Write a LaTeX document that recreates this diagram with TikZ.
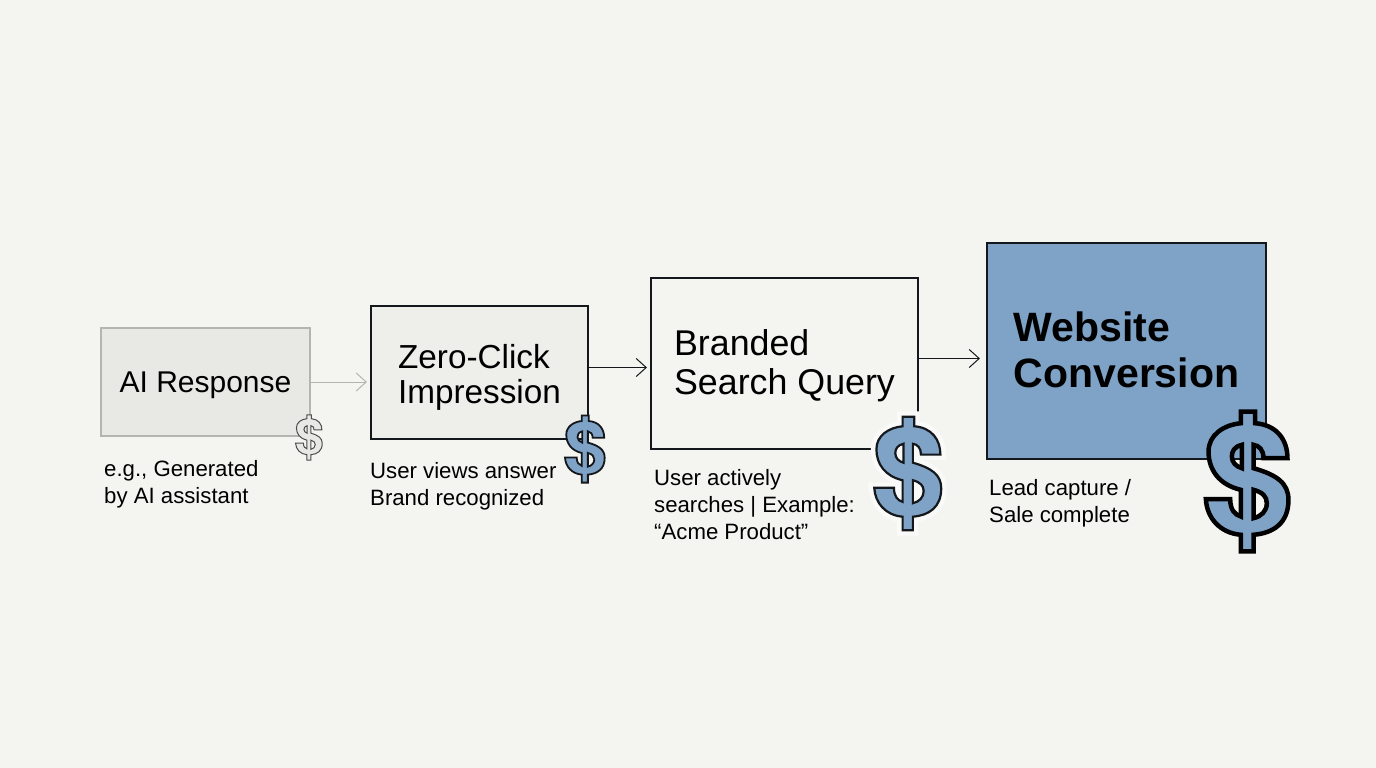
\documentclass[tikz,border=0pt]{standalone}
\usepackage{fontspec}
\setmainfont{Liberation Sans}
\usetikzlibrary{arrows.meta}
\definecolor{bgc}{HTML}{F4F4F0}
\definecolor{blu}{HTML}{7FA3C7}
\definecolor{ink}{HTML}{14181C}
\definecolor{gfill}{HTML}{E8E8E4}
\definecolor{gline}{HTML}{B4B5B0}
\definecolor{zfill}{HTML}{EEEFEA}
\definecolor{halo}{HTML}{FAFAF8}
\tikzset{
  box/.style={draw=ink,line width=1.1pt,inner sep=0pt},
  boxtext/.style={inner sep=0pt,align=left,text=black},
  captext/.style={anchor=north west,inner sep=0pt,align=left,text=black,
    font=\fontsize{22.2}{27.2}\selectfont},
  link/.style={draw=ink,line width=1pt,-{Straight Barb[length=10pt,width=18pt,line width=1pt]}},
  dollar/.pic={
    \path[pic actions,even odd rule,line join=miter]
      (-17,-210) -- (23,-210) -- (23,-175)
      .. controls (88,-170) and (120,-125) .. (120,-70)
      -- (48,-70) .. controls (48,-95) and (35,-108) .. (18,-110)
      -- (18,-40)
      .. controls (88,-20) and (123,5) .. (123,55)
      .. controls (123,125) and (78,155) .. (18,160)
      -- (18,210) -- (-20,210) -- (-20,160)
      .. controls (-82,155) and (-122,110) .. (-125,53)
      -- (-52,53) .. controls (-52,85) and (-38,100) .. (-20,105)
      -- (-20,25)
      .. controls (-85,10) and (-117,-35) .. (-117,-90)
      .. controls (-117,-140) and (-72,-170) .. (-20,-175)
      -- (-20,-210) -- cycle
      (-17,-110) .. controls (-40,-105) and (-47,-90) .. (-47,-75)
      .. controls (-47,-58) and (-35,-45) .. (-17,-40) -- cycle
      (18,25) .. controls (45,32) and (58,45) .. (58,65)
      .. controls (58,88) and (42,105) .. (18,110) -- cycle;
  }
}
\begin{document}
\begin{tikzpicture}[x=1pt,y=-1pt]
\useasboundingbox (0,0) rectangle (1376,768);
\fill[bgc] (0,0) rectangle (1376,768);

\node[box,draw=gline,fill=gfill,minimum width=209pt,minimum height=108pt] (ai) at (205.5,382) {};
\node[box,fill=zfill,minimum width=217pt,minimum height=133pt] (zero) at (479.5,372.5) {};
\node[box,fill=bgc,minimum width=267pt,minimum height=171pt] (branded) at (784.5,363.5) {};
\node[box,fill=blu,minimum width=279pt,minimum height=216pt] (web) at (1126.5,351) {};

\node[boxtext,font=\fontsize{30}{35}\selectfont] (aitext) at ([yshift=-3pt]ai.center) {AI Response};
\node[boxtext,font=\fontsize{33.3}{35}\selectfont] (zerotext) at ([yshift=-4.5pt]zero.center) {Zero-Click\\Impression};
\node[boxtext,font=\fontsize{35.8}{39}\selectfont] (brandedtext) at ([yshift=-2.5pt]branded.center) {Branded\\Search Query};
\node[boxtext,font=\fontsize{41}{46}\selectfont\bfseries] (webtext) at ([yshift=1pt]web.center) {Website\\Conversion};

\draw[link,draw=gline,shorten >=3.5pt] (ai.east) -- (ai.east -| zero.west);
\draw[link,shorten >=3.5pt] ([yshift=5pt]zero.east) -- ([yshift=5pt]zero.east -| branded.west);
\draw[link,shorten >=6.5pt] ([yshift=5pt]branded.east) -- ([yshift=5pt]branded.east -| web.west);

\node[captext] (capai) at (104,460) {e.g., Generated\\by AI assistant};
\node[captext] (capzero) at (370,462) {User views answer\\Brand recognized};
\node[captext] (capbranded) at (654,469) {User actively\\searches | Example:\\“Acme Product”};
\node[captext] (capweb) at (989,479) {Lead capture /\\Sale complete};

\pic[fill=gfill,draw=black!70,line width=1pt,scale=0.1075] at (309,437.5) {dollar};
\pic[fill=blu,draw=ink,line width=1.8pt,scale=0.16] at (585,449) {dollar};
\pic[draw=halo,line width=11pt,line join=round,scale=0.27] at (908,473.5) {dollar};
\pic[fill=blu,draw=ink,line width=2.2pt,scale=0.27] at (908,473.5) {dollar};
\pic[fill=blu,draw=black,line width=4.5pt,scale=0.333] at (1247.5,481.5) {dollar};
\end{tikzpicture}
\end{document}
